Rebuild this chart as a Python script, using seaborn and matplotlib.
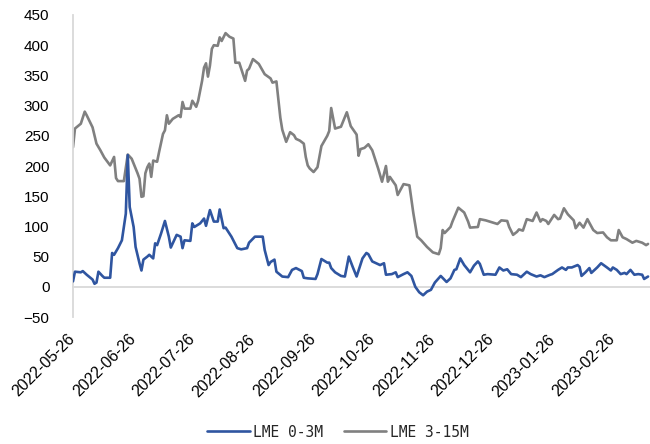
import matplotlib
matplotlib.use("Agg")
import matplotlib.pyplot as plt
import pandas as pd
import seaborn as sns

# x positions: calendar days after 2022-05-26
start_date = "2022-05-26"

blue_day = [0, 1, 4, 5, 7, 10, 11, 12, 13, 15, 16, 19, 20, 21, 23, 25, 27, 28, 29, 31,
            32, 34, 35, 36, 38, 39, 41, 42, 43, 45, 47, 49, 50, 53, 55, 56, 57, 60, 61, 62,
            65, 67, 68, 70, 72, 74, 75, 77, 78, 80, 81, 84, 86, 89, 90, 93, 97, 98, 100, 101,
            103, 104, 107, 110, 112, 114, 117, 118, 120, 124, 125, 127, 130, 131, 132, 134, 137, 139, 141, 143,
            145, 148, 150, 151, 153, 155, 157, 159, 160, 163, 165, 166, 169, 171, 173, 175, 177, 179, 181, 183,
            185, 188, 191, 193, 195, 196, 198, 200, 203, 205, 207, 208, 210, 212, 216, 218, 220, 222, 224, 227,
            229, 232, 234, 237, 239, 241, 244, 245, 248, 250, 252, 253, 255, 258, 259, 260, 262, 264, 265, 268,
            270, 273, 275, 276, 278, 280, 282, 283, 285, 287, 289, 291, 292, 294]
blue_val = [9, 25, 24, 26, 20, 12, 5, 7, 25, 18, 15, 15, 56, 53, 64, 77, 121, 218, 132, 99,
            66, 39, 27, 45, 50, 53, 47, 72, 69, 88, 109, 83, 65, 86, 83, 64, 77, 76, 105, 99,
            105, 113, 101, 127, 108, 108, 128, 97, 98, 88, 83, 64, 62, 64, 73, 83, 83, 61, 36, 41,
            45, 25, 17, 16, 28, 31, 26, 15, 14, 13, 21, 46, 40, 40, 31, 24, 18, 17, 50, 33,
            17, 47, 56, 54, 42, 39, 36, 39, 20, 21, 24, 16, 21, 24, 18, 0, -9, -14, -8, -5,
            7, 18, 8, 14, 28, 29, 47, 36, 24, 35, 42, 38, 20, 21, 20, 32, 27, 29, 21, 20,
            16, 25, 21, 17, 19, 16, 20, 21, 28, 32, 28, 32, 32, 36, 33, 18, 24, 31, 23, 32,
            39, 32, 27, 32, 28, 21, 23, 21, 28, 20, 21, 20, 13, 17]

grey_day = [0, 1, 4, 6, 7, 10, 12, 14, 16, 19, 21, 22, 23, 26, 28, 30, 33, 34, 35, 36,
            37, 38, 39, 40, 41, 43, 44, 46, 47, 48, 49, 51, 54, 55, 56, 57, 60, 61, 63, 64,
            66, 67, 68, 69, 70, 71, 72, 74, 75, 76, 78, 80, 82, 83, 85, 88, 89, 90, 92, 95,
            98, 101, 102, 104, 106, 107, 109, 111, 113, 114, 116, 118, 119, 120, 121, 123, 125, 127, 130, 131,
            132, 134, 137, 140, 142, 145, 146, 147, 149, 151, 153, 156, 157, 158, 160, 161, 162, 165, 166, 169,
            172, 174, 176, 178, 181, 184, 187, 188, 189, 190, 193, 194, 197, 200, 202, 203, 207, 208, 211, 215,
            217, 219, 222, 223, 225, 227, 228, 230, 232, 235, 237, 239, 240, 242, 243, 246, 248, 249, 251, 253,
            256, 257, 259, 261, 263, 266, 268, 271, 273, 275, 278, 279, 281, 283, 286, 288, 291, 293, 294]
grey_val = [231, 262, 270, 290, 284, 264, 237, 226, 214, 201, 215, 180, 175, 175, 219, 212, 188, 179, 149, 150,
            188, 198, 204, 182, 209, 207, 223, 253, 259, 284, 270, 278, 284, 281, 306, 295, 295, 308, 298, 308,
            341, 363, 370, 348, 366, 394, 400, 399, 413, 407, 420, 414, 411, 371, 371, 341, 358, 361, 377, 369,
            352, 345, 338, 340, 280, 260, 240, 256, 251, 245, 242, 237, 215, 201, 196, 190, 198, 233, 250, 258,
            296, 262, 265, 289, 266, 252, 217, 228, 230, 236, 226, 196, 185, 174, 200, 174, 182, 168, 152, 170,
            168, 122, 83, 77, 66, 57, 54, 64, 94, 89, 99, 108, 131, 123, 108, 98, 99, 112, 110, 106,
            104, 110, 109, 99, 86, 91, 95, 93, 112, 109, 123, 108, 112, 109, 104, 119, 112, 113, 130, 120,
            110, 97, 106, 98, 112, 94, 89, 90, 82, 77, 77, 94, 82, 79, 73, 76, 73, 69, 71]

tick_labels = ["2022-05-26", "2022-06-26", "2022-07-26", "2022-08-26", "2022-09-26",
               "2022-10-26", "2022-11-26", "2022-12-26", "2023-01-26", "2023-02-26"]
series_names = ["LME 0-3M", "LME 3-15M"]
y_ticks = [-50, 0, 50, 100, 150, 200, 250, 300, 350, 400, 450]

sns.set_theme(style="white")
plt.rcParams["font.family"] = ["Liberation Sans", "DejaVu Sans"]

start = pd.Timestamp(start_date)
df_blue = pd.DataFrame({"date": start + pd.to_timedelta(blue_day, unit="D"), "value": blue_val})
df_grey = pd.DataFrame({"date": start + pd.to_timedelta(grey_day, unit="D"), "value": grey_val})

fig = plt.figure(figsize=(6.5, 4.44), dpi=100)
ax = fig.add_axes([73 / 650, 1 - 317 / 444, (650 - 73) / 650, (317 - 15) / 444])

BLUE = "#2F55A0"
GREY = "#808080"
sns.lineplot(data=df_grey, x="date", y="value", ax=ax, color=GREY, lw=1.9,
             label=series_names[1], zorder=2)
sns.lineplot(data=df_blue, x="date", y="value", ax=ax, color=BLUE, lw=1.9,
             label=series_names[0], zorder=3)

ax.set_ylim(-50, 450)
ax.set_yticks(y_ticks)
ax.set_xlim(start, start + pd.Timedelta(days=295))
ax.set_xticks(pd.to_datetime(tick_labels))
ax.set_xticklabels(tick_labels)
ax.set_xlabel("")
ax.set_ylabel("")

for s in ["top", "right"]:
    ax.spines[s].set_visible(False)
ax.spines["left"].set_color("#D9D9D9")
ax.spines["left"].set_linewidth(1.3)
ax.spines["bottom"].set_position(("data", 0))
ax.spines["bottom"].set_color("#D9D9D9")
ax.spines["bottom"].set_linewidth(1.3)

ax.tick_params(axis="x", direction="out", length=5, width=1.2, color="#D9D9D9",
               pad=31, labelcolor="#000000", labelsize=11.5, labelrotation=45)
ax.tick_params(axis="y", length=0, pad=17, labelsize=11, labelcolor="#000000")
ax.grid(False)

for lab in ax.get_xticklabels():
    lab.set_horizontalalignment("right")
    lab.set_verticalalignment("center")
    lab.set_rotation_mode("anchor")

handles, labels = ax.get_legend_handles_labels()
order = [labels.index(series_names[0]), labels.index(series_names[1])]
ax.get_legend().remove()
fig.legend([handles[i] for i in order], [labels[i] for i in order],
           loc="center", bbox_to_anchor=(338 / 650, 1 - 432 / 444), ncol=2, frameon=False,
           prop={"family": "DejaVu Sans Mono", "size": 10.5},
           handlelength=2.9, handletextpad=0.25, columnspacing=1.4)

fig.savefig("out.png", dpi=100, facecolor="white")
